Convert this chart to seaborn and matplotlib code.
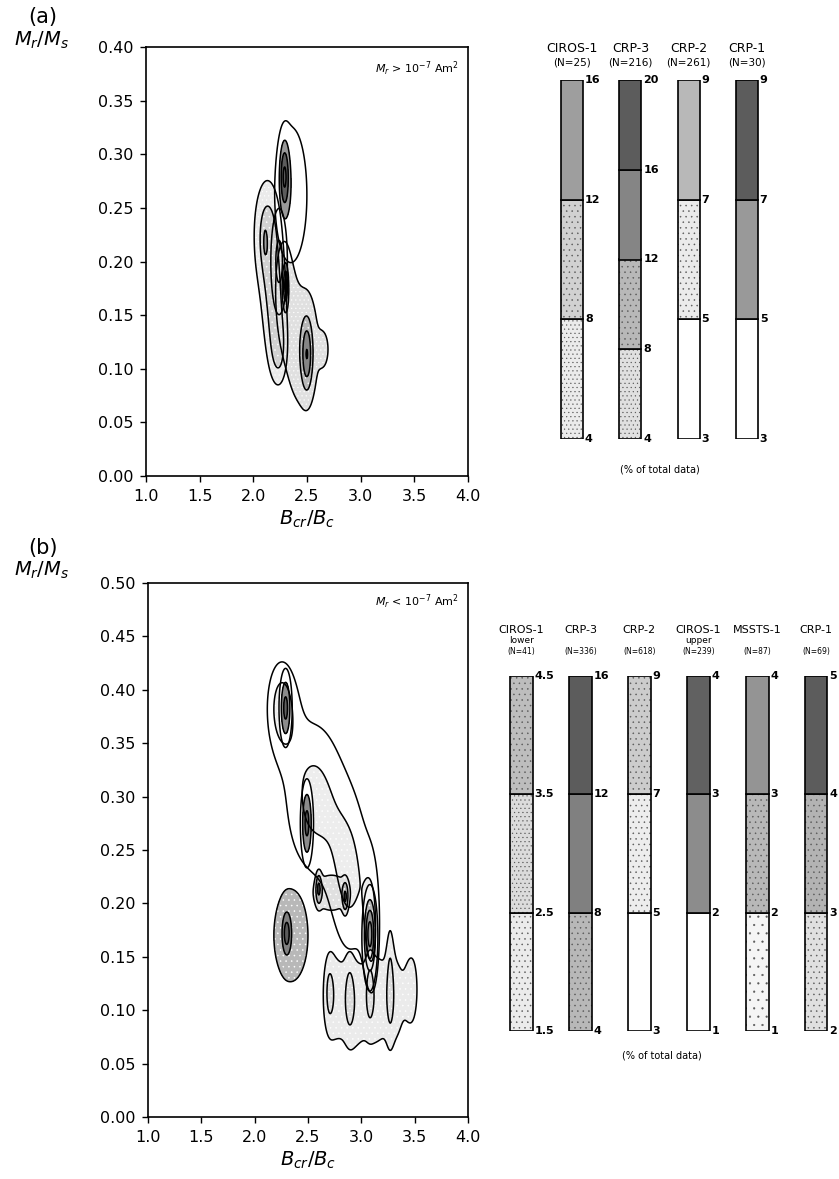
import numpy as np
import matplotlib
matplotlib.use("Agg")
import matplotlib.pyplot as plt
import seaborn as sns

# ------- PANEL (a) : Mr > 1e-7 Am2 ---------
a_sites = ["CIROS-1", "CRP-3", "CRP-2", "CRP-1"]
a_counts = [25, 216, 261, 30]
a_levels = [[4, 8, 12, 16], [4, 8, 12, 16, 20], [3, 5, 7, 9], [3, 5, 7, 9]]

# density peaks: (Bcr/Bc, Mr/Ms, spread x, spread y, % of data)
a_peaks_ciros1 = [(2.13, 0.225, 0.089, 0.037, 10.0), (2.20, 0.155, 0.079, 0.039, 9.0),
                  (2.24, 0.115, 0.055, 0.022, 6.0), (2.11, 0.218, 0.010, 0.008, 4.0)]
a_peaks_crp3 = [(2.46, 0.12, 0.142, 0.053, 6.5), (2.66, 0.118, 0.040, 0.013, 3.5),
                (2.50, 0.113, 0.035, 0.022, 10.0),
                (2.28, 0.18, 0.070, 0.040, 5.5), (2.30, 0.178, 0.015, 0.012, 10.0)]
a_peaks_crp2 = [(2.24, 0.20, 0.070, 0.045, 5.5)]
a_peaks_crp1 = [(2.35, 0.262, 0.170, 0.072, 4.4), (2.29, 0.28, 0.030, 0.022, 5.5)]

# ------- PANEL (b) : Mr < 1e-7 Am2 ---------
b_sites = ["CIROS-1", "CRP-3", "CRP-2", "CIROS-1", "MSSTS-1", "CRP-1"]
b_subs = ["lower", "", "", "upper", "", ""]
b_counts = [41, 336, 618, 239, 87, 69]
b_levels = [[1.5, 2.5, 3.5, 4.5], [4, 8, 12, 16], [3, 5, 7, 9], [1, 2, 3, 4], [1, 2, 3, 4], [2, 3, 4, 5]]

b_peaks_crp2 = [(2.25, 0.385, 0.110, 0.035, 5.5), (2.55, 0.30, 0.220, 0.060, 5.5),
                (2.90, 0.22, 0.150, 0.060, 5.0), (3.10, 0.17, 0.060, 0.050, 4.5)]
b_peaks_ciros_up = [(2.29, 0.383, 0.040, 0.024, 3.3), (2.49, 0.275, 0.040, 0.027, 3.3)]
b_peaks_crp1 = [(2.72, 0.21, 0.200, 0.020, 2.8), (2.60, 0.215, 0.020, 0.012, 2.0), (2.85, 0.205, 0.020, 0.012, 2.0)]
b_peaks_mssts = [(3.08, 0.172, 0.035, 0.022, 3.3), (3.08, 0.16, 0.070, 0.050, 1.2)]
b_peaks_ciros_low = [(2.72, 0.112, 0.09, 0.045, 1.9), (2.92, 0.105, 0.09, 0.045, 1.9), (3.12, 0.11, 0.09, 0.045, 1.9),
                     (3.32, 0.11, 0.09, 0.045, 1.9), (3.48, 0.12, 0.05, 0.030, 1.9),
                     (2.70, 0.118, 0.030, 0.022, 1.0), (2.89, 0.115, 0.030, 0.025, 1.0),
                     (3.08, 0.12, 0.025, 0.022, 1.0), (3.27, 0.135, 0.025, 0.045, 1.1)]
b_peaks_crp3 = [(2.34, 0.17, 0.200, 0.054, 5.5), (2.30, 0.172, 0.029, 0.0135, 9.0)]

# ------- GRAY SHADES AND STIPPLE PER BAND (styles) ---------
a_grays = [["0.92", "0.82", "0.62"], ["0.88", "0.72", "0.52", "0.36"], ["white", "0.92", "0.72"], ["white", "0.60", "0.36"]]
a_dots = [["....", "...", ""], ["....", "...", "", ""], ["", "...", ""], ["", "", ""]]
b_grays = [["0.92", "0.86", "0.74"], ["0.72", "0.50", "0.36"], ["white", "0.93", "0.80"],
           ["white", "0.55", "0.38"], ["0.96", "0.72", "0.58"], ["0.88", "0.70", "0.36"]]
b_dots = [["...", "....", "..."], ["...", "", ""], ["", "...", "..."],
          ["", "", ""], ["..", "...", ""], ["...", "...", ""]]

sns.set_style("ticks")
plt.rcParams["font.family"] = ["DejaVu Sans"]
plt.rcParams["text.color"] = "black"
plt.rcParams["xtick.color"] = "black"
plt.rcParams["ytick.color"] = "black"
plt.rcParams["axes.edgecolor"] = "black"
plt.rcParams["axes.labelcolor"] = "black"
plt.rcParams["hatch.color"] = "0.35"
plt.rcParams["hatch.linewidth"] = 0.35

xg = np.linspace(1.0, 4.0, 500)
yg = np.linspace(0.0, 0.5, 500)
X, Y = np.meshgrid(xg, yg)


def density(peaks):
    Z = np.zeros_like(X)
    for cx, cy, sx, sy, h in peaks:
        Z += h * np.exp(-0.5 * (((X - cx) / sx) ** 2 + ((Y - cy) / sy) ** 2))
    return Z


def draw_site(ax, peaks, levels, grays, dots):
    Z = density(peaks)
    top = max(Z.max(), levels[-1]) + 1
    lv = list(levels) + [top]
    cols = list(grays) + [grays[-1]]
    hts = list(dots) + [dots[-1]]
    ax.contourf(X, Y, Z, levels=lv, colors=cols, hatches=hts)
    ax.contour(X, Y, Z, levels=levels, colors="black", linewidths=1.1)


def draw_bars(ax, levels, grays, dots, names, subs, counts, name_y, sub_y, n_y, name_fs, n_fs):
    for i, (lv, gr, dt) in enumerate(zip(levels, grays, dots)):
        n = len(lv) - 1
        for k in range(n):
            ax.bar(i, 1.0 / n, bottom=k / n, width=0.38, color=gr[k], hatch=dt[k], edgecolor="0.35", linewidth=0)
            ax.bar(i, 1.0 / n, bottom=k / n, width=0.38, fill=False, edgecolor="black", linewidth=1.2)
        for k, v in enumerate(lv):
            ax.text(i + 0.22, k / n, f"{v:g}", ha="left", va="center", fontsize=8, fontweight="bold")
        ax.text(i, name_y, names[i], ha="center", va="center", fontsize=name_fs)
        if subs[i]:
            ax.text(i, sub_y, subs[i], ha="center", va="center", fontsize=name_fs - 1.5)
        ax.text(i, n_y, f"(N={counts[i]})", ha="center", va="center", fontsize=n_fs)
    ax.set_ylim(0, 1)
    ax.axis("off")


fig = plt.figure(figsize=(8.39, 11.79), dpi=100)

# ------- MAIN CONTOUR AXES ---------
axa = fig.add_axes([146 / 839, 1 - 476 / 1179, 322 / 839, 429 / 1179])
draw_site(axa, a_peaks_crp2, a_levels[2], a_grays[2], a_dots[2])
draw_site(axa, a_peaks_ciros1, a_levels[0], a_grays[0], a_dots[0])
draw_site(axa, a_peaks_crp3, a_levels[1], a_grays[1], a_dots[1])
draw_site(axa, a_peaks_crp1, a_levels[3], a_grays[3], a_dots[3])
axa.set_xlim(1, 4)
axa.set_ylim(0, 0.40)
axa.text(0.97, 0.95, r"$M_r$ > 10$^{-7}$ Am$^2$", transform=axa.transAxes, ha="right", va="center", fontsize=8)

axb = fig.add_axes([148 / 839, 1 - 1117 / 1179, 320 / 839, 534 / 1179])
draw_site(axb, b_peaks_crp2, b_levels[2], b_grays[2], b_dots[2])
draw_site(axb, b_peaks_ciros_up, b_levels[3], b_grays[3], b_dots[3])
draw_site(axb, b_peaks_crp1, b_levels[5], b_grays[5], b_dots[5])
draw_site(axb, b_peaks_mssts, b_levels[4], b_grays[4], b_dots[4])
draw_site(axb, b_peaks_ciros_low, b_levels[0], b_grays[0], b_dots[0])
draw_site(axb, b_peaks_crp3, b_levels[1], b_grays[1], b_dots[1])
axb.set_xlim(1, 4)
axb.set_ylim(0, 0.50)
axb.text(0.97, 0.965, r"$M_r$ < 10$^{-7}$ Am$^2$", transform=axb.transAxes, ha="right", va="center", fontsize=8)

for ax, ymax in [(axa, 0.40), (axb, 0.50)]:
    ax.set_xticks(np.arange(1.0, 4.01, 0.5))
    ax.set_xticklabels([f"{v:.1f}" for v in np.arange(1.0, 4.01, 0.5)])
    yt = np.arange(0, ymax + 0.001, 0.05)
    ax.set_yticks(yt)
    ax.set_yticklabels([f"{v:.2f}" for v in yt])
    ax.tick_params(direction="out", length=4, width=1, labelsize=11.5, pad=5)
    for s in ax.spines.values():
        s.set_linewidth(1.2)
    ax.set_xlabel(r"$B_{cr}/B_c$", fontsize=14, labelpad=4)

fig.text(28 / 839, 1 - 17 / 1179, "(a)", fontsize=15, va="center")
fig.text(14 / 839, 1 - 40 / 1179, r"$M_r/M_s$", fontsize=14, va="center")
fig.text(28 / 839, 1 - 548 / 1179, "(b)", fontsize=15, va="center")
fig.text(14 / 839, 1 - 570 / 1179, r"$M_r/M_s$", fontsize=14, va="center")

# ------- LEVEL BARS ---------
bara = fig.add_axes([543 / 839, 1 - 439 / 1179, 233 / 839, 359 / 1179])
bara.set_xlim(-0.5, 3.5)
draw_bars(bara, a_levels, a_grays, a_dots, a_sites, ["", "", "", ""], a_counts, 1.089, 1.07, 1.05, 9, 7.5)
bara.text(0.5, -0.085, "(% of total data)", transform=bara.transAxes, ha="center", va="center", fontsize=7)

barb = fig.add_axes([492 / 839, 1 - 1031 / 1179, 339 / 839, 355 / 1179])
barb.set_xlim(-0.5, 5.25)
draw_bars(barb, b_levels, b_grays, b_dots, b_sites, b_subs, b_counts, 1.13, 1.10, 1.068, 8, 5.5)
barb.text(0.5, -0.07, "(% of total data)", transform=barb.transAxes, ha="center", va="center", fontsize=7)

fig.savefig("out.png", dpi=100)
